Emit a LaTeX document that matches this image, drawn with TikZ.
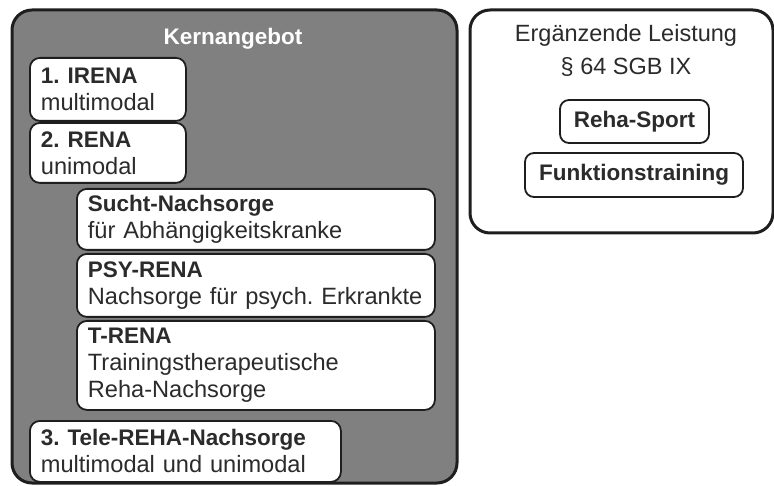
\documentclass[tikz,border=0pt]{standalone}
\usepackage{fontspec}
\setmainfont{Liberation Sans}
\usetikzlibrary{positioning}
\definecolor{kerngrey}{HTML}{808080}
\definecolor{inktext}{HTML}{2B2B2B}
\definecolor{inkline}{HTML}{1E1E1E}
\newcommand{\boxhead}[1]{{\fontsize{22.5}{27}\selectfont\bfseries #1}}
\frenchspacing

\begin{document}
\begin{tikzpicture}[x=1pt, y=-1pt,
  panel/.style={draw=inkline, line width=3pt, rounded corners=20pt, anchor=north west, inner sep=0pt},
  offer/.style={draw=inkline, line width=1.8pt, fill=white, rounded corners=10pt, anchor=north west, inner xsep=11pt, inner ysep=0pt, align=left, text=inktext, font=\fontsize{23.6}{27}\selectfont},
  tag/.style={draw=inkline, line width=1.8pt, rounded corners=9pt, inner xsep=8pt, inner ysep=0pt, text=inktext, font=\fontsize{22.5}{26}\selectfont\bfseries}]
  \useasboundingbox (0,0) rectangle (774,486);

  % core offer
  \node[panel, fill=kerngrey, minimum width=445pt, minimum height=473pt] (kern) at (10.5,8.5) {};
  \node[anchor=base, text=white, font=\fontsize{22.5}{26}\selectfont\bfseries] (kerntitle) at (233,45) {Kernangebot};
  \node[offer, text width=134pt, minimum height=63pt] (irena) at (29,57) {\boxhead{1. IRENA}\\multimodal};
  \node[offer, text width=134pt, minimum height=60pt] (rena) at (29,122) {\boxhead{2. RENA}\\unimodal};
  \node[offer, text width=336pt, minimum height=61pt] (sucht) at (76,188) {\boxhead{Sucht-Nachsorge}\\für Abhängigkeitskranke};
  \node[offer, text width=336pt, minimum height=63pt] (psy) at (76,253) {\boxhead{PSY-RENA}\\Nachsorge für psych. Erkrankte};
  \node[offer, text width=336pt, minimum height=89pt] (trena) at (76,320) {\boxhead{T-RENA}\\Trainingstherapeutische\\Reha-Nachsorge};
  \node[offer, text width=289pt, minimum height=61pt] (tele) at (29,420) {\boxhead{3. Tele-REHA-Nachsorge}\\multimodal und unimodal};

  % supplementary
  \node[panel, fill=white, minimum width=303pt, minimum height=223pt] (ergaenz) at (468.5,8.5) {};
  \node[anchor=base, text=inktext, font=\fontsize{23.5}{26}\selectfont] (ergtitle) at (626,42) {Ergänzende Leistung};
  \node[anchor=base, text=inktext, font=\fontsize{23.5}{26}\selectfont] (sgb) at (626,75) {§ 64 SGB IX};
  \node[tag, minimum width=149pt, minimum height=43pt] (sport) at (634.5,121.5) {Reha-Sport};
  \node[tag, minimum width=218pt, minimum height=44pt] (funktion) at (634,175) {Funktionstraining};
\end{tikzpicture}
\end{document}
